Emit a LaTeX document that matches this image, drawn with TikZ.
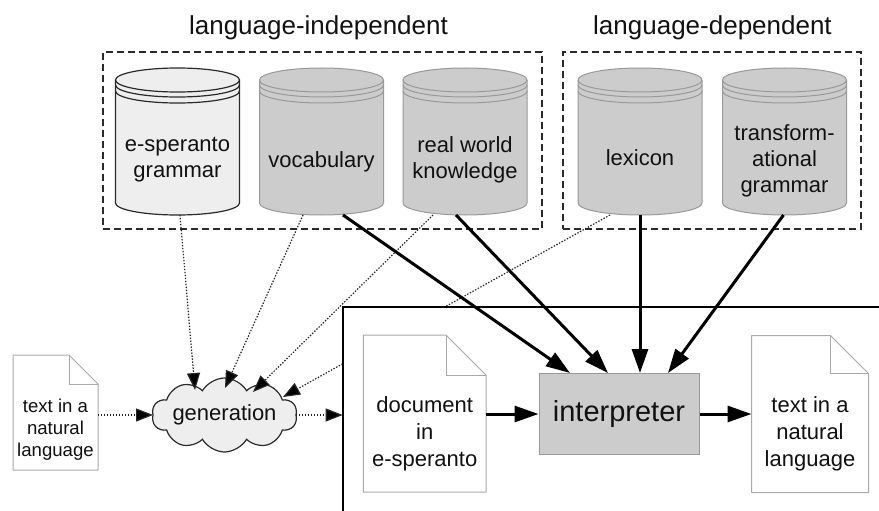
\documentclass[tikz,border=0pt]{standalone}
\usepackage{fontspec}
\setmainfont{Liberation Sans}
\usetikzlibrary{arrows.meta,shapes.symbols,calc}

\definecolor{dbfill}{HTML}{CCCCCC}
\definecolor{dbline}{HTML}{999999}
\definecolor{lightfill}{HTML}{EEEEEE}
\definecolor{darkline}{HTML}{2A2A2A}
\definecolor{pageline}{HTML}{AAAAAA}
\definecolor{inkcol}{HTML}{111111}

\tikzset{
  grouptitle/.style={font=\fontsize{26}{30}\selectfont, anchor=base, inner sep=0pt, text=inkcol},
  groupbox/.style={draw=darkline, line width=2pt, dash pattern=on 7pt off 4pt, inner sep=0pt},
  dbarea/.style={inner sep=0pt, outer sep=0pt, minimum width=124pt, minimum height=147pt},
  dblabel/.style={font=\fontsize{22}{26}\selectfont, align=center, inner sep=0pt, text=inkcol},
  pagearea/.style={inner sep=0pt, outer sep=0pt},
  pagelabel/.style={font=\fontsize{22}{27}\selectfont, align=center, inner sep=0pt, text=inkcol},
  smalllabel/.style={font=\fontsize{18.6}{22}\selectfont, align=center, inner sep=0pt, text=inkcol},
  genstyle/.style={cloud, cloud puffs=10, cloud puff arc=120, cloud ignores aspect,
    draw=darkline, fill=lightfill, line width=1.2pt, minimum width=142pt,
    minimum height=74pt, inner sep=0pt, outer sep=0pt,
    font=\fontsize{22}{26}\selectfont, text=inkcol},
  interpstyle/.style={draw=dbline, fill=dbfill, line width=1pt, minimum width=160pt,
    minimum height=81pt, inner sep=0pt, font=\fontsize{29}{34}\selectfont, text=inkcol},
  feed/.style={line width=1.2pt, draw=black!85, dash pattern=on 1.4pt off 1.6pt,
    -{Triangle[length=17pt,width=13pt,fill=black]}},
  flow/.style={line width=3pt, draw=black, -{Triangle[length=24pt,width=16pt]}},
}

% a database drum: #1 centre x, #2 fill, #3 outline colour, #4 outline width
\newcommand\dbdrum[4]{%
  \path[fill=#2, draw=#3, line width=#4] (#1-62,80) -- (#1-62,203)
     arc[start angle=180, end angle=0, x radius=62, y radius=12] -- (#1+62,80);
  \path[fill=#2, draw=#3, line width=#4] (#1,80) ellipse[x radius=62, y radius=12];
  \draw[#3, line width=#4] (#1-62,85) arc[start angle=180, end angle=0, x radius=62, y radius=12];
  \draw[#3, line width=#4] (#1-62,91) arc[start angle=180, end angle=0, x radius=62, y radius=12];
}

% a sheet of paper with a folded corner round node #1, fold size #2
\newcommand\pageoutline[2]{%
  \draw[pageline, line width=1pt, fill=white, line join=round] (#1.north west)
    -- ([xshift=-#2]#1.north east) -- ([yshift=-#2]#1.north east)
    -- (#1.south east) -- (#1.south west) -- cycle;
  \draw[pageline, line width=1pt] ([xshift=-#2]#1.north east) |- ([yshift=-#2]#1.north east);
}

\begin{document}
\begin{tikzpicture}[x=1pt, y=-1pt]
\useasboundingbox (0,0) rectangle (879,511);
\clip (0,0) rectangle (879,511);

% groups of knowledge sources
\node[groupbox, minimum width=439pt, minimum height=177pt] (indep) at (322.5,140.5) {};
\node[groupbox, minimum width=298pt, minimum height=177pt] (dep) at (712,140.5) {};
\node[grouptitle] (indeptitle) at (318.5,35) {language-independent};
\node[grouptitle] (deptitle) at (712.5,35) {language-dependent};

% databases
\dbdrum{177.5}{lightfill}{darkline}{1.2pt}
\node[dbarea] (gram) at (177.5,141.5) {};
\node[dblabel] (gramtxt) at (177.5,160) {e-speranto\\grammar};

\dbdrum{321.5}{dbfill}{dbline}{1pt}
\node[dbarea] (voc) at (321.5,141.5) {};
\node[dblabel] (voctxt) at (321.5,162) {vocabulary};

\dbdrum{465}{dbfill}{dbline}{1pt}
\node[dbarea] (rwk) at (465,141.5) {};
\node[dblabel] (rwktxt) at (465,160) {real world\\knowledge};

\dbdrum{640}{dbfill}{dbline}{1pt}
\node[dbarea] (lex) at (640,141.5) {};
\node[dblabel] (lextxt) at (640,158) {lexicon};

\dbdrum{784.5}{dbfill}{dbline}{1pt}
\node[dbarea] (tg) at (784.5,141.5) {};
\node[dblabel] (tgtxt) at (784.5,161) {transform-\\ational\\grammar};

% generation step
\node[pagearea, minimum width=85pt, minimum height=115pt] (src) at (55.5,412.5) {};
\pageoutline{src}{29pt}
\node[smalllabel] (srctxt) at (55.5,429.3) {text in a\\natural\\language};

\node[genstyle] (gen) at (224.5,415) {generation};

\draw[feed] (src.east |- gen.west) -- (gen.west);
\draw[feed] ([xshift=2.5pt]gram.south) -- ($(gen.center)+(-29.5,-25)$);
\draw[feed] ([xshift=-18.5pt]voc.south) -- ($(gen.center)+(0.5,-27)$);
\draw[feed] ([xshift=-32pt]rwk.south) -- ($(gen.center)+(28.5,-23)$);
\draw[feed] ([xshift=-30pt]lex.south) -- ($(gen.center)+(58.5,-18)$);

% interpretation frame
\coordinate (framecorner) at (342.7,307.3);
\fill[white] (framecorner) rectangle ([xshift=600pt,yshift=-300pt]framecorner);
\draw[line width=2pt, line cap=rect] ([xshift=600pt]framecorner) -- (framecorner) -- ([yshift=-300pt]framecorner);
\draw[feed] (gen.east) -- (framecorner |- gen.east);

\node[pagearea, minimum width=122.6pt, minimum height=157pt] (mdoc) at (424.7,413.5) {};
\pageoutline{mdoc}{40pt}
\node[pagelabel] (mdoctxt) at (424.7,433.7) {document\\in\\e-speranto};

\node[interpstyle] (interp) at (619,414) {interpreter};

\node[pagearea, minimum width=117pt, minimum height=157pt] (tgt) at (810,414) {};
\pageoutline{tgt}{38pt}
\node[pagelabel] (tgttxt) at (810,433.5) {text in a\\natural\\language};

% knowledge feeding the interpreter
\draw[flow] ([xshift=21.5pt]voc.south) -- ([xshift=-49pt]interp.north);
\draw[flow] ([xshift=-9pt]rwk.south) -- ([xshift=-11pt]interp.north);
\draw[flow] (lex.south) -- ([xshift=21pt]interp.north);
\draw[flow] ([xshift=-1pt]tg.south) -- ([xshift=49pt]interp.north);
\draw[flow] (mdoc.east |- interp.west) -- (interp.west);
\draw[flow] (interp.east) -- (tgt.west |- interp.east);
\end{tikzpicture}
\end{document}
